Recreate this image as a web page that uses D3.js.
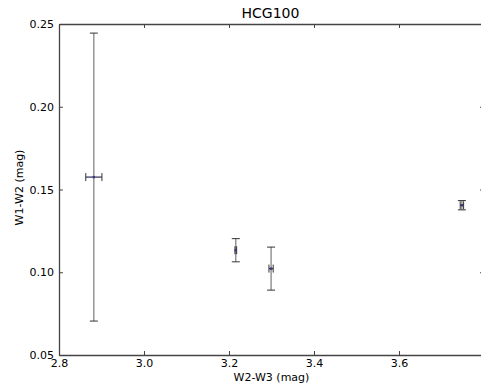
<!DOCTYPE html>
<html>
<head>
<meta charset="utf-8">
<script src="https://cdn.jsdelivr.net/npm/d3@7"></script>
<style>
  body { margin: 0; background: #fff; }
  text { font-family: "DejaVu Sans", sans-serif; fill: #000; }
</style>
</head>
<body>
<div id="chart"></div>
<script>
// W2-W3 colour, with errors
var xVals = [2.882, 3.216, 3.299, 3.748];
var xErrs = [0.019, 0.002, 0.005, 0.004];
// W1-W2 colour, with errors
var yVals = [0.1575, 0.1133, 0.1022, 0.1405];
var yErrs = [0.0870, 0.0070, 0.0130, 0.0028];

var xTicks = [2.8, 3.0, 3.2, 3.4, 3.6];
var yTicks = [0.05, 0.10, 0.15, 0.20, 0.25];

var width = 481, height = 391;
var mLeft = 59, mTop = 24, plotW = 425, plotH = 331;

var svg = d3.select("#chart").append("svg")
    .attr("width", width)
    .attr("height", height);

var x = d3.scaleLinear().domain([2.8, 3.8]).range([mLeft, mLeft + plotW]);
var y = d3.scaleLinear().domain([0.05, 0.25]).range([mTop + plotH, mTop]);

var points = xVals.map(function(v, i) {
    return {x: v, y: yVals[i], xe: xErrs[i], ye: yErrs[i]};
});

//error bars
var g = svg.append("g");
var barColor = "#6e6e6e", capColor = "#333", hColor = "#2e2e55", capW = 4;

points.forEach(function(p) {
    var cx = x(p.x), cy = y(p.y);
    g.append("line")
        .attr("x1", cx).attr("x2", cx)
        .attr("y1", y(p.y + p.ye)).attr("y2", y(p.y - p.ye))
        .attr("stroke", barColor).attr("stroke-width", 1.1);
    [p.y + p.ye, p.y - p.ye].forEach(function(v) {
        g.append("line")
            .attr("x1", cx - capW).attr("x2", cx + capW)
            .attr("y1", y(v)).attr("y2", y(v))
            .attr("stroke", capColor).attr("stroke-width", 1);
    });
    g.append("line")
        .attr("x1", x(p.x - p.xe)).attr("x2", x(p.x + p.xe))
        .attr("y1", cy).attr("y2", cy)
        .attr("stroke", hColor).attr("stroke-width", 1.2);
    [p.x - p.xe, p.x + p.xe].forEach(function(v) {
        g.append("line")
            .attr("x1", x(v)).attr("x2", x(v))
            .attr("y1", cy - capW).attr("y2", cy + capW)
            .attr("stroke", capColor).attr("stroke-width", 1);
    });
    g.append("rect")
        .attr("x", cx - 1.2).attr("y", cy - 1.2)
        .attr("width", 2.4).attr("height", 2.4)
        .attr("fill", "#3a3a7a");
});

//axes, ticks pointing inward
var tickLen = 4;
var bottomAxis = d3.axisBottom(x).tickValues(xTicks).tickFormat(d3.format(".1f"))
    .tickSizeInner(-tickLen).tickSizeOuter(0).tickPadding(4);
var topAxis = d3.axisTop(x).tickValues(xTicks).tickFormat("")
    .tickSizeInner(-tickLen).tickSizeOuter(0);
var leftAxis = d3.axisLeft(y).tickValues(yTicks).tickFormat(d3.format(".2f"))
    .tickSizeInner(-tickLen).tickSizeOuter(0).tickPadding(5);
var rightAxis = d3.axisRight(y).tickValues(yTicks).tickFormat("")
    .tickSizeInner(-tickLen).tickSizeOuter(0);

function style(sel) {
    sel.selectAll("path").attr("stroke", "#444").attr("stroke-width", 1.3);
    sel.selectAll("line").attr("stroke", "#444");
    sel.selectAll("text").attr("font-size", 11).attr("font-family", "DejaVu Sans").attr("fill", "#000");
}

svg.append("g").attr("transform", "translate(0," + (mTop + plotH) + ")").call(bottomAxis).call(style);
svg.append("g").attr("transform", "translate(0," + mTop + ")").call(topAxis).call(style);
svg.append("g").attr("transform", "translate(" + mLeft + ",0)").call(leftAxis).call(style);
svg.append("g").attr("transform", "translate(" + (mLeft + plotW) + ",0)").call(rightAxis).call(style);

svg.append("text")
    .attr("x", mLeft + plotW / 2 - 1).attr("y", 18)
    .attr("text-anchor", "middle").attr("font-size", 14)
    .text("HCG100");

svg.append("text")
    .attr("x", mLeft + plotW / 2).attr("y", 381)
    .attr("text-anchor", "middle").attr("font-size", 11)
    .text("W2-W3 (mag)");

svg.append("text")
    .attr("transform", "translate(23," + (mTop + plotH / 2 - 2) + ") rotate(-90)")
    .attr("text-anchor", "middle").attr("font-size", 11)
    .text("W1-W2 (mag)");
</script>
</body>
</html>
